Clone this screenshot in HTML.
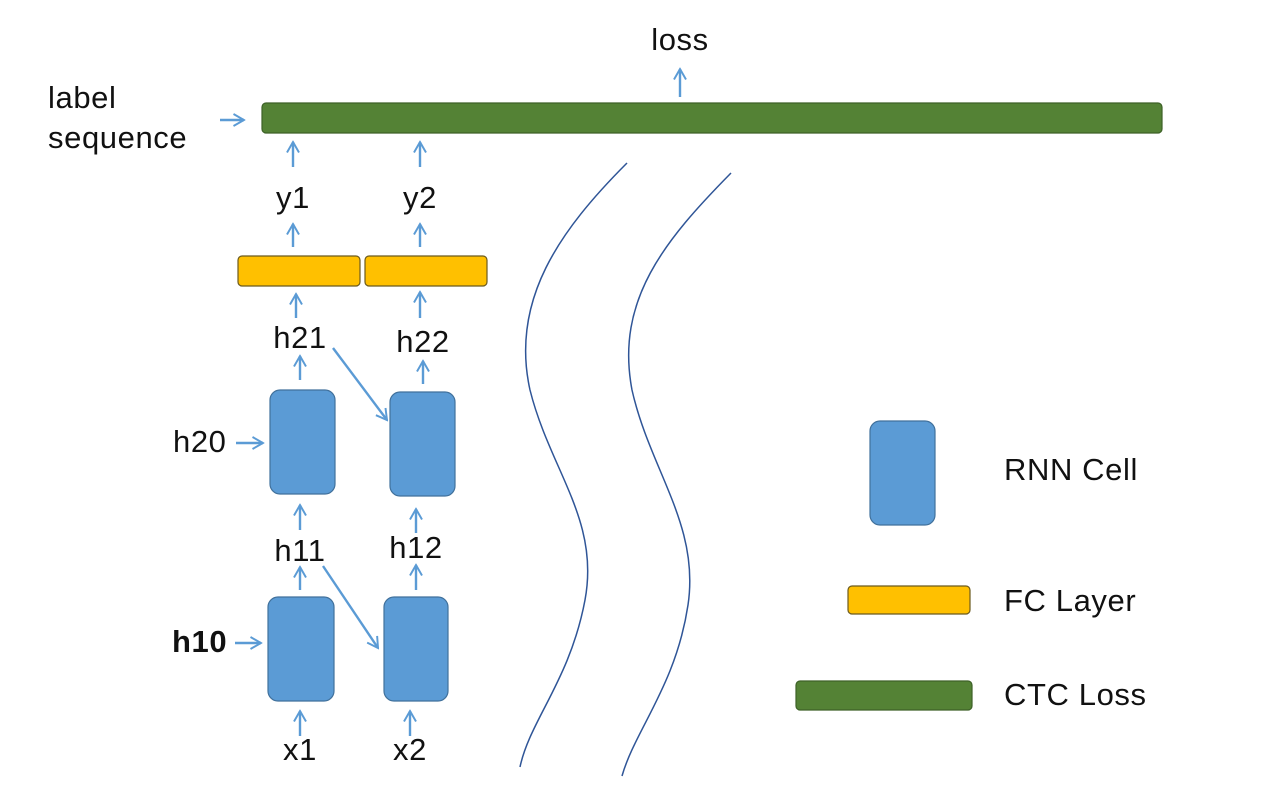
<!DOCTYPE html>
<html><head><meta charset="utf-8"><style>
html,body{margin:0;padding:0;background:#fff;}
svg{display:block}
text{font-family:"Liberation Sans","DejaVu Sans",sans-serif;font-size:31px;letter-spacing:0.6px;fill:#111;}
</style></head><body>
<svg width="1264" height="800" viewBox="0 0 1264 800">
<defs>
<marker id="ah" viewBox="0 0 10 10" refX="9" refY="5" markerWidth="15" markerHeight="15" orient="auto" markerUnits="userSpaceOnUse">
<path d="M2,1 L9,5 L2,9" fill="none" stroke="#5B9BD5" stroke-width="1.3"/>
</marker>
</defs>
<g stroke="#5B9BD5" stroke-width="2.4" fill="none" marker-end="url(#ah)">
<line x1="680" y1="97" x2="680" y2="69"/>
<line x1="220" y1="120" x2="244" y2="120"/>
<line x1="293" y1="167" x2="293" y2="142"/>
<line x1="420" y1="167" x2="420" y2="142"/>
<line x1="293" y1="247" x2="293" y2="224"/>
<line x1="420" y1="247" x2="420" y2="224"/>
<line x1="296" y1="318" x2="296" y2="294"/>
<line x1="420" y1="318" x2="420" y2="292"/>
<line x1="300" y1="380" x2="300" y2="356"/>
<line x1="423" y1="384" x2="423" y2="361"/>
<line x1="300" y1="530" x2="300" y2="505"/>
<line x1="416" y1="533" x2="416" y2="509"/>
<line x1="300" y1="590" x2="300" y2="567"/>
<line x1="416" y1="590" x2="416" y2="565"/>
<line x1="300" y1="736" x2="300" y2="711"/>
<line x1="410" y1="736" x2="410" y2="711"/>
<line x1="236" y1="443" x2="263" y2="443"/>
<line x1="235" y1="643" x2="261" y2="643"/>
<line x1="333" y1="348" x2="387" y2="420"/>
<line x1="323" y1="566" x2="378" y2="648"/>
</g>
<rect x="262" y="103" width="900" height="30" rx="4" fill="#548235" stroke="#3d6127" stroke-width="1.2"/>
<rect x="238" y="256" width="122" height="30" rx="4" fill="#FFC000" stroke="#6b5a1e" stroke-width="1.2"/>
<rect x="365" y="256" width="122" height="30" rx="4" fill="#FFC000" stroke="#6b5a1e" stroke-width="1.2"/>
<g fill="#5B9BD5" stroke="#41719C" stroke-width="1.2">
<rect x="270" y="390" width="65" height="104" rx="10"/>
<rect x="390" y="392" width="65" height="104" rx="10"/>
<rect x="268" y="597" width="66" height="104" rx="10"/>
<rect x="384" y="597" width="64" height="104" rx="10"/>
<rect x="870" y="421" width="65" height="104" rx="10"/>
</g>
<rect x="848" y="586" width="122" height="28" rx="4" fill="#FFC000" stroke="#6b5a1e" stroke-width="1.2"/>
<rect x="796" y="681" width="176" height="29" rx="4" fill="#548235" stroke="#3d6127" stroke-width="1.2"/>
<path d="M627,163 C560,230 510,300 530,390 C550,470 600,520 585,600 C570,680 530,720 520,767" fill="none" stroke="#2F5597" stroke-width="1.5"/>
<path d="M731,173 C665,240 615,300 632,390 C650,470 700,525 688,605 C676,685 635,730 622,776" fill="none" stroke="#2F5597" stroke-width="1.5"/>
<text x="680" y="50" text-anchor="middle">loss</text>
<text x="48" y="108">label</text>
<text x="48" y="148">sequence</text>
<text x="293" y="208" text-anchor="middle">y1</text>
<text x="420" y="208" text-anchor="middle">y2</text>
<text x="300" y="348" text-anchor="middle">h21</text>
<text x="423" y="352" text-anchor="middle">h22</text>
<text x="173" y="452">h20</text>
<text x="300" y="561" text-anchor="middle">h11</text>
<text x="416" y="558" text-anchor="middle">h12</text>
<text x="172" y="652" font-weight="bold">h10</text>
<text x="300" y="760" text-anchor="middle">x1</text>
<text x="410" y="760" text-anchor="middle">x2</text>
<text x="1004" y="480">RNN Cell</text>
<text x="1004" y="611">FC Layer</text>
<text x="1004" y="705">CTC Loss</text>
</svg>
</body></html>
